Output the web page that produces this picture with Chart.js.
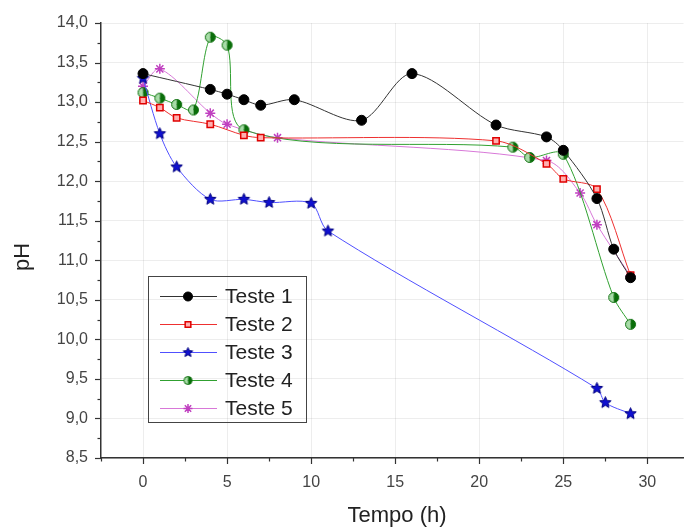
<!DOCTYPE html>
<html>
<head>
<meta charset="utf-8">
<title>pH vs Tempo</title>
<script src="https://cdn.jsdelivr.net/npm/chart.js@4/dist/chart.umd.min.js"></script>
<style>
  body { margin: 0; background: #fff; }
  canvas { display: block; }
</style>
</head>
<body>
<canvas id="chart" width="690" height="529"></canvas>
<script>
// values
const seriesNames = ['Teste 1', 'Teste 2', 'Teste 3', 'Teste 4', 'Teste 5'];

const t1x = [0, 4, 5, 6, 7, 9, 13, 16, 21, 24, 25, 27, 28, 29];
const t1y = [13.36, 13.16, 13.10, 13.03, 12.96, 13.03, 12.77, 13.36, 12.71, 12.56, 12.39, 11.78, 11.14, 10.78];

const t2x = [0, 1, 2, 4, 6, 7, 21, 24, 25, 27, 29];
const t2y = [13.02, 12.93, 12.80, 12.72, 12.58, 12.55, 12.51, 12.22, 12.03, 11.90, 10.81];

const t3x = [0, 1, 2, 4, 6, 7.5, 10, 11, 27, 27.5, 29];
const t3y = [13.30, 12.60, 12.18, 11.77, 11.77, 11.73, 11.72, 11.37, 9.38, 9.20, 9.06];

const t4x = [0, 1, 2, 3, 4, 5, 6, 22, 23, 25, 28, 29];
const t4y = [13.12, 13.05, 12.97, 12.90, 13.82, 13.72, 12.65, 12.43, 12.30, 12.34, 10.53, 10.19];

const t5x = [0, 1, 4, 5, 8, 24, 26, 27, 29];
const t5y = [13.20, 13.42, 12.86, 12.72, 12.55, 12.26, 11.85, 11.45, 10.80];

const xTicks = [0, 5, 10, 15, 20, 25, 30];
const yTicks = [8.5, 9.0, 9.5, 10.0, 10.5, 11.0, 11.5, 12.0, 12.5, 13.0, 13.5, 14.0];

const pts = (xs, ys) => xs.map((x, i) => ({ x: x, y: ys[i] }));

const FONT = '"Liberation Sans", Arial, sans-serif';

// custom markers
function starImg(fill, stroke, r) {
  const c = document.createElement('canvas');
  const s = Math.ceil(r * 2 + 3);
  c.width = c.height = s;
  const g = c.getContext('2d');
  g.beginPath();
  for (let i = 0; i < 10; i++) {
    const a = -Math.PI / 2 + i * Math.PI / 5;
    const rr = i % 2 ? r * 0.45 : r;
    g.lineTo(s / 2 + rr * Math.cos(a), s / 2 + rr * Math.sin(a));
  }
  g.closePath();
  g.fillStyle = fill;
  g.fill();
  g.strokeStyle = stroke;
  g.lineWidth = 1;
  g.stroke();
  return c;
}

function halfImg(r) {
  const c = document.createElement('canvas');
  const s = Math.ceil(r * 2 + 3);
  c.width = c.height = s;
  const g = c.getContext('2d');
  const m = s / 2;
  g.beginPath();
  g.arc(m, m, r, Math.PI / 2, Math.PI * 1.5);
  g.fillStyle = '#a8dca8';
  g.fill();
  g.beginPath();
  g.arc(m, m, r, -Math.PI / 2, Math.PI / 2);
  g.fillStyle = '#0a6e0a';
  g.fill();
  g.beginPath();
  g.arc(m, m, r, 0, Math.PI * 2);
  g.strokeStyle = '#0a6e0a';
  g.lineWidth = 1;
  g.stroke();
  return c;
}

const starBlue = starImg('#1010d0', '#000080', 6);
const halfGreen = halfImg(5);
const starBlueSmall = starImg('#1010d0', '#000080', 5);
const halfGreenSmall = halfImg(4);

function series(label, data, color, extra) {
  return Object.assign({
    label: label,
    data: data,
    borderColor: color,
    borderWidth: 1,
    tension: 0.3,
    fill: false,
    pointRadius: 4.5,
    pointHoverRadius: 4.5
  }, extra);
}

const datasets = [
  series(seriesNames[0], pts(t1x, t1y), '#333333', {
    pointStyle: 'circle', pointRadius: 5, pointBackgroundColor: '#000', pointBorderColor: '#000'
  }),
  series(seriesNames[1], pts(t2x, t2y), '#ee3030', {
    pointStyle: 'rect', pointRadius: 4.5, pointBackgroundColor: '#ffb0b0', pointBorderColor: '#e00000', pointBorderWidth: 1.5
  }),
  series(seriesNames[2], pts(t3x, t3y), '#5050ff', {
    pointStyle: starBlue, legendMarker: starBlueSmall
  }),
  series(seriesNames[3], pts(t4x, t4y), '#30a030', {
    pointStyle: halfGreen, legendMarker: halfGreenSmall
  }),
  series(seriesNames[4], pts(t5x, t5y), '#d878d8', {
    pointStyle: 'star', pointRadius: 5, pointBorderColor: '#c040c0', pointBorderWidth: 1.5
  })
];

// ticks, titles and legend drawn on top
const decor = {
  id: 'decor',
  afterDraw(chart) {
    const ctx = chart.ctx;
    const xs = chart.scales.x, ys = chart.scales.y;
    const a = chart.chartArea;
    ctx.save();
    ctx.strokeStyle = '#333';
    ctx.lineWidth = 1.2;
    // y ticks (outward, left)
    for (let v = 8.5; v <= 14.0001; v += 0.25) {
      const y = Math.round(ys.getPixelForValue(v)) + 0.5;
      const major = Math.abs(v * 2 - Math.round(v * 2)) < 1e-6;
      ctx.beginPath();
      ctx.moveTo(a.left, y);
      ctx.lineTo(a.left - (major ? 6 : 3.5), y);
      ctx.stroke();
    }
    // x ticks (outward, down)
    for (let v = -2.5; v <= 30.0001; v += 2.5) {
      const x = Math.round(xs.getPixelForValue(v)) + 0.5;
      const major = Math.abs(v / 5 - Math.round(v / 5)) < 1e-6;
      ctx.beginPath();
      ctx.moveTo(x, a.bottom);
      ctx.lineTo(x, a.bottom + (major ? 6 : 3.5));
      ctx.stroke();
    }
    // axis titles
    ctx.fillStyle = '#222';
    ctx.font = '22px ' + FONT;
    ctx.textAlign = 'center';
    ctx.textBaseline = 'alphabetic';
    ctx.fillText('Tempo (h)', 397, 522);
    ctx.translate(29, 257);
    ctx.rotate(-Math.PI / 2);
    ctx.fillText('pH', 0, 0);
    ctx.restore();

    // legend
    ctx.save();
    ctx.strokeStyle = '#444';
    ctx.lineWidth = 1;
    ctx.strokeRect(148.5, 276.5, 158, 146);
    ctx.font = '21px ' + FONT;
    ctx.textBaseline = 'middle';
    ctx.textAlign = 'left';
    chart.data.datasets.forEach((ds, i) => {
      const y = 296 + i * 28;
      ctx.strokeStyle = ds.borderColor;
      ctx.lineWidth = 1;
      ctx.beginPath();
      ctx.moveTo(160, y + 0.5);
      ctx.lineTo(217, y + 0.5);
      ctx.stroke();
      const ps = ds.legendMarker || ds.pointStyle;
      if (ps instanceof HTMLCanvasElement) {
        ctx.drawImage(ps, 188 - ps.width / 2, y - ps.height / 2 + 0.5);
      } else {
        ctx.fillStyle = ds.pointBackgroundColor || ds.borderColor;
        ctx.strokeStyle = ds.pointBorderColor || ds.borderColor;
        ctx.lineWidth = ds.pointBorderWidth || 1;
        Chart.helpers.drawPoint(ctx, { pointStyle: ps, radius: ds.pointRadius - 0.5, rotation: 0, borderWidth: ctx.lineWidth }, 188, y + 0.5);
      }
      ctx.fillStyle = '#222';
      ctx.fillText(ds.label, 225, y + 1);
    });
    ctx.restore();
  }
};

new Chart(document.getElementById('chart').getContext('2d'), {
  type: 'line',
  data: { datasets: datasets },
  options: {
    responsive: false,
    animation: false,
    layout: { padding: { top: 23, right: 0, left: 0, bottom: 0 } },
    plugins: {
      legend: { display: false },
      tooltip: { enabled: false }
    },
    scales: {
      x: {
        type: 'linear',
        min: -2.5,
        max: 32.15,
        afterBuildTicks: (s) => { s.ticks = xTicks.map(v => ({ value: v })); },
        afterFit: (s) => { s.height = 71; },
        grid: { color: 'rgba(0,0,0,0.07)', drawTicks: false },
        border: { display: true, color: '#333', width: 1.5 },
        ticks: {
          padding: 15,
          color: '#444',
          font: { family: FONT, size: 16 },
          callback: (v) => String(v)
        }
      },
      y: {
        min: 8.5,
        max: 14.0,
        afterBuildTicks: (s) => { s.ticks = yTicks.map(v => ({ value: v })); },
        afterFit: (s) => { s.width = 101; },
        grid: { color: 'rgba(0,0,0,0.07)', drawTicks: false },
        border: { display: true, color: '#333', width: 1.5 },
        ticks: {
          padding: 13,
          color: '#444',
          font: { family: FONT, size: 16 },
          callback: (v) => v.toFixed(1).replace('.', ',')
        }
      }
    }
  },
  plugins: [decor]
});
</script>
</body>
</html>
